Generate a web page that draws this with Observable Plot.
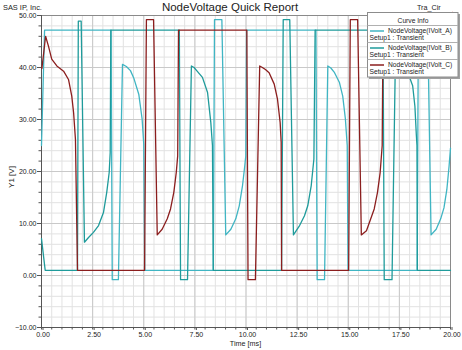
<!DOCTYPE html>
<html><head><meta charset="utf-8">
<script src="https://cdn.jsdelivr.net/npm/d3@7"></script>
<script src="https://cdn.jsdelivr.net/npm/@observablehq/plot@0.6"></script>
<style>body{margin:0;background:#fff;} svg{display:block;}</style>
</head><body><div id="chart"></div>
<script>
// ---- tick labels ----
const xMajorTicks = [0, 2.5, 5, 7.5, 10, 12.5, 15, 17.5, 20];
const yMajorTicks = [-10, 0, 10, 20, 30, 40, 50];
const xMinorTicks = d3.range(0, 20.001, 0.5);
const yMinorTicks = d3.range(-10, 50.001, 2);

// ---- series ----
const seriesLabels = ["NodeVoltage(IVolt_A)", "NodeVoltage(IVolt_B)", "NodeVoltage(IVolt_C)"];
const seriesSetup = "Setup1 : Transient";
const seriesColors = ["#40b5c3", "#1f9b9b", "#8b1e1e"];

// Volt_A  (time ms, voltage V)
const tA = [0, 0.15, 3.40, 3.46, 3.76, 3.96, 4.15, 4.35, 4.51, 4.76, 4.92, 5.00, 5.05,
  8.40, 8.46, 8.82, 9.01, 9.26, 9.50, 9.67, 9.83, 9.94, 9.99, 10.03,
  13.42, 13.48, 13.84, 14.00, 14.15, 14.33, 14.57, 14.73, 14.86, 14.95, 14.99,
  18.37, 18.43, 18.88, 19.05, 19.30, 19.52, 19.68, 19.82, 19.93, 20.0];
const vA = [25.0, 47.2, 47.2, -0.8, -0.8, 40.6, 40.2, 39.4, 38.0, 34.8, 30.1, 25.3, 1.0,
  1.0, 49.2, 49.2, 7.8, 8.9, 10.9, 13.4, 17.3, 21.1, 23.0, 47.2,
  47.2, -0.8, -0.8, 40.3, 39.9, 39.0, 37.1, 34.5, 30.1, 25.0, 1.0,
  1.0, 49.2, 49.2, 7.8, 8.9, 10.9, 13.0, 16.5, 21.0, 24.5];

// Volt_B
const tB = [0, 0.18, 1.76, 1.80, 1.94, 2.10, 2.30, 2.54, 2.79, 3.03, 3.19, 3.31, 3.36, 3.39,
  6.74, 6.80, 7.14, 7.33, 7.46, 7.61, 7.87, 8.12, 8.28, 8.36, 8.40,
  11.74, 11.82, 12.14, 12.32, 12.62, 12.86, 13.02, 13.19, 13.32, 13.38,
  16.70, 16.76, 17.14, 17.30, 17.50, 17.75, 17.98, 18.15, 18.26, 18.33, 18.36, 18.38, 20.0];
const vB = [7.1, 1.0, 1.0, 48.9, 48.9, 6.4, 7.3, 8.3, 9.6, 12.1, 16.0, 19.8, 23.7, 47.2,
  47.2, -0.8, -0.8, 40.3, 40.0, 39.3, 38.1, 35.2, 29.4, 25.0, 1.0,
  1.0, 49.2, 49.2, 7.8, 9.6, 11.5, 13.4, 17.3, 22.4, 47.2,
  47.2, -0.8, -0.8, 40.4, 40.1, 39.4, 38.3, 36.5, 32.5, 27.0, 25.0, 1.0, 1.0];

// Volt_C
const tC = [0.02, 0.20, 0.34, 0.50, 0.75, 1.08, 1.32, 1.48, 1.57, 1.66, 1.76,
  5.04, 5.13, 5.48, 5.66, 5.90, 6.15, 6.31, 6.47, 6.59, 6.66, 6.70,
  10.04, 10.10, 10.46, 10.67, 10.80, 10.95, 11.13, 11.38, 11.54, 11.67, 11.72, 11.74,
  15.02, 15.10, 15.46, 15.64, 15.89, 16.10, 16.27, 16.43, 16.56, 16.66, 16.70, 20.0];
const vC = [39.8, 46.0, 44.1, 41.6, 40.3, 39.3, 37.7, 34.5, 31.3, 26.2, 1.0,
  1.0, 49.2, 49.2, 7.8, 8.9, 10.9, 12.8, 16.0, 19.8, 23.0, 47.2,
  47.2, -0.8, -0.8, 40.3, 40.0, 39.6, 39.0, 36.8, 33.9, 29.4, 25.6, 1.0,
  1.0, 49.2, 49.2, 7.8, 8.6, 10.9, 12.8, 16.0, 19.8, 25.0, 47.2, 47.2];

const rows = (ts, vs) => ts.map((t, i) => ({t, v: vs[i]}));
const series = [rows(tA, vA), rows(tB, vB), rows(tC, vC)];

const FONT = "'Liberation Sans', Arial, Helvetica, sans-serif";

const chart = Plot.plot({
  width: 462, height: 350,
  marginLeft: 41, marginRight: 12, marginTop: 15, marginBottom: 23,
  style: {fontFamily: FONT, fontSize: "7px", background: "#fff", color: "#222", overflow: "visible"},
  x: {domain: [0, 20]},
  y: {domain: [-10, 50]},
  marks: [
    Plot.gridX(xMinorTicks, {stroke: "#e2e2e2", strokeOpacity: 1, strokeWidth: 1}),
    Plot.gridY(yMinorTicks, {stroke: "#e2e2e2", strokeOpacity: 1, strokeWidth: 1}),
    Plot.gridX(xMajorTicks, {stroke: "#c9c9c9", strokeOpacity: 1, strokeWidth: 1}),
    Plot.gridY(yMajorTicks, {stroke: "#c9c9c9", strokeOpacity: 1, strokeWidth: 1}),
    Plot.frame({stroke: "#8a8a8a"}),
    Plot.ruleX([0], {stroke: "#555"}),
    Plot.ruleY([-10], {stroke: "#555"}),
    Plot.axisY(yMinorTicks, {tickSize: 2.5, tickFormat: () => "", label: null, stroke: "#555"}),
    Plot.axisY(yMajorTicks, {tickSize: 4, tickPadding: 1, tickFormat: d3.format(".2f"), label: null, stroke: "#555", fill: "#222", fontSize: 7}),
    Plot.axisX(xMinorTicks, {tickSize: 2.5, tickFormat: () => "", label: null, stroke: "#555"}),
    Plot.axisX(xMajorTicks, {tickSize: 3, tickPadding: 1.5, tickFormat: d3.format(".2f"), label: null, stroke: "#555", fill: "#222", fontSize: 7, dx: 1.5}),
    ...series.map((d, i) => Plot.line(d, {x: "t", y: "v", stroke: seriesColors[i], strokeWidth: 1.3}))
  ]
});
document.getElementById("chart").appendChild(chart);

const svg = d3.select(chart);
const txt = (parent, x, y, s, size, anchor = "start") => parent.append("text")
  .attr("x", x).attr("y", y).attr("font-family", FONT).attr("font-size", size)
  .attr("text-anchor", anchor).attr("fill", "#222").text(s);

txt(svg, 230, 11, "NodeVoltage Quick Report", 11.5, "middle");
txt(svg, 3, 9.5, "SAS IP, Inc.", 7.4);
txt(svg, 417, 9.5, "Tra_Cir", 7.2);
svg.append("path").attr("d", "M450,16 L455.5,16 L452.75,11.5 Z").attr("fill", "#d9302c");
txt(svg, 245.5, 346, "Time [ms]", 7.2, "middle");
svg.append("text").attr("transform", "translate(14,177) rotate(-90)")
  .attr("font-family", FONT).attr("font-size", 8).attr("text-anchor", "middle").attr("fill", "#222").text("Y1 [V]");

// legend box
const lg = svg.append("g");
lg.append("rect").attr("x", 369).attr("y", 14).attr("width", 91).attr("height", 65).attr("fill", "#a0a0a0");
lg.append("rect").attr("x", 367.5).attr("y", 12.5).attr("width", 90.5).attr("height", 64.5).attr("fill", "#fff").attr("stroke", "#8c8c8c");
txt(lg, 413, 22.5, "Curve Info", 6.7, "middle");
[25.5, 42.5, 59.5].forEach(y => lg.append("line").attr("x1", 367.5).attr("x2", 458).attr("y1", y).attr("y2", y).attr("stroke", "#b0b0b0"));
seriesLabels.forEach((name, i) => {
  const ly = 31 + 17 * i;
  lg.append("line").attr("x1", 370).attr("x2", 384).attr("y1", ly).attr("y2", ly).attr("stroke", seriesColors[i]).attr("stroke-width", 1.5);
  txt(lg, 388, ly + 2.4, name, 6.7, "start");
  txt(lg, 369.5, ly + 8.6, seriesSetup, 6.7, "start");
});
</script>
</body></html>
